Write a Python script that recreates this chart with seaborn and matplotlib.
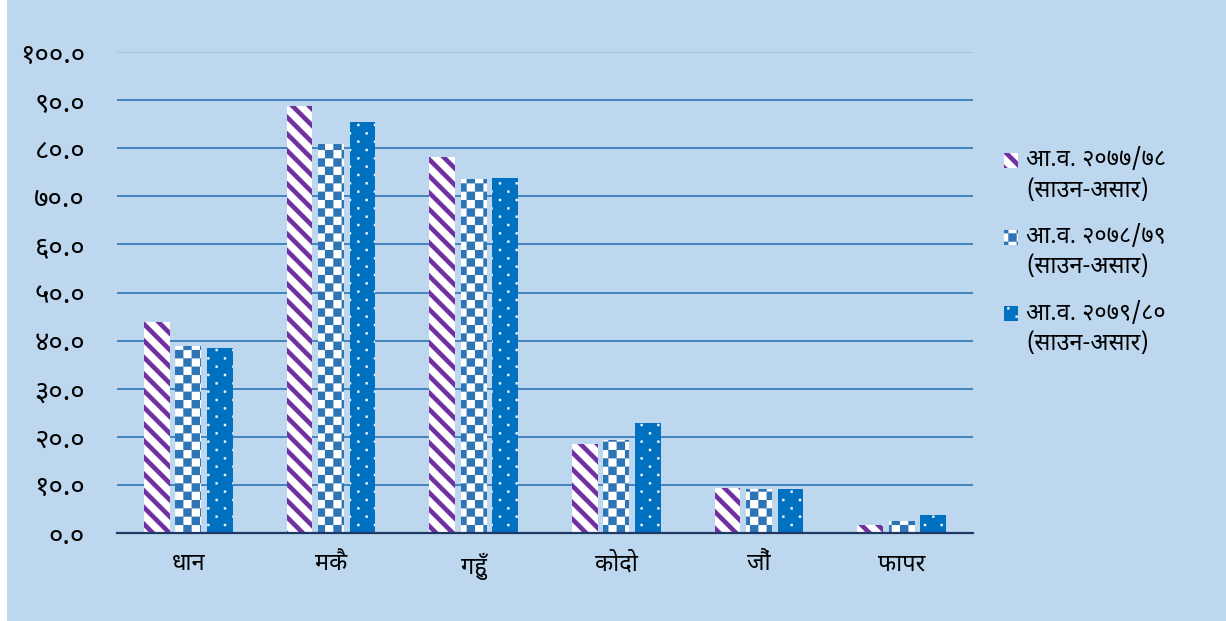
import matplotlib
matplotlib.use('Agg')
import numpy as np
import pandas as pd
import seaborn as sns
import matplotlib.pyplot as plt
import matplotlib.hatch as mhatch
from matplotlib.path import Path
from matplotlib.patches import Rectangle
from matplotlib.legend_handler import HandlerPatch
from matplotlib import font_manager
from fontTools.ttLib import TTFont

# data
crops = ['धान', 'मकै', 'गहुँ', 'कोदो', 'जौं', 'फापर']
years = ['आ.व. २०७७/७८\n(साउन-असार)',
         'आ.व. २०७८/७९\n(साउन-असार)',
         'आ.व. २०७९/८०\n(साउन-असार)']
y2077 = [43.8, 88.8, 78.1, 18.6, 9.4, 1.7]
y2078 = [38.9, 80.9, 73.5, 19.3, 9.1, 2.5]
y2079 = [38.5, 85.4, 73.9, 22.9, 9.2, 3.7]
yticks = [0, 10, 20, 30, 40, 50, 60, 70, 80, 90, 100]
ytick_labels = ['०.०', '१०.०', '२०.०', '३०.०', '४०.०', '५०.०',
                '६०.०', '७०.०', '८०.०', '९०.०', '१००.०']

bg = '#BDD7EE'
purple = '#7030A0'
check_blue = '#2E75B6'
dot_blue = '#0070C0'


#%% find a font that has devanagari glyphs
def find_deva_font():
    prefer = ['Noto Sans Devanagari', 'Noto Serif Devanagari', 'Lohit Devanagari',
              'Mangal', 'Kokila', 'Noto Sans']
    found = []
    for f in font_manager.fontManager.ttflist:
        try:
            tt = TTFont(f.fname, fontNumber=0, lazy=True)
            cmap = tt.getBestCmap() or {}
        except Exception:
            continue
        if 0x0927 in cmap and 0x096F in cmap:
            found.append(f.name)
    for p in prefer:
        if p in found:
            return p
    return found[0] if found else None


deva = find_deva_font()
if deva:
    plt.rcParams['font.family'] = [deva, 'DejaVu Sans']
else:
    plt.rcParams['font.family'] = ['DejaVu Sans']
plt.rcParams['hatch.linewidth'] = 0.1


#%% filled hatch patterns (stripes, checkerboard, dots)
class StripeHatch(mhatch.HatchPatternBase):
    def __init__(self, hatch, density):
        self.n = int(hatch.count('\\') * density)
        self.num_vertices = (2 * self.n + 1) * 5 if self.n else 0

    def set_vertices_and_codes(self, vertices, codes):
        w = 0.38 / self.n
        k = 0
        for i in range(2 * self.n + 1):
            c = i / self.n
            vertices[k:k + 5] = [(c, 0), (c + w, 0), (c + w - 1, 1), (c - 1, 1), (c, 0)]
            codes[k:k + 5] = [Path.MOVETO, Path.LINETO, Path.LINETO, Path.LINETO, Path.CLOSEPOLY]
            k += 5


class CheckerHatch(mhatch.HatchPatternBase):
    def __init__(self, hatch, density):
        self.n = int(hatch.count('+') * density * 2)
        self.num_vertices = (self.n * self.n // 2) * 5 if self.n else 0

    def set_vertices_and_codes(self, vertices, codes):
        s = 1.0 / self.n
        k = 0
        for i in range(self.n):
            for j in range(self.n):
                if (i + j) % 2:
                    continue
                x, y = i * s, j * s
                vertices[k:k + 5] = [(x, y), (x + s, y), (x + s, y + s), (x, y + s), (x, y)]
                codes[k:k + 5] = [Path.MOVETO, Path.LINETO, Path.LINETO, Path.LINETO, Path.CLOSEPOLY]
                k += 5


class DotHatch(mhatch.HatchPatternBase):
    def __init__(self, hatch, density):
        self.cols = int(hatch.count('.') * density)
        self.rows = self.cols * 2
        pts = []
        if self.cols:
            for r in range(self.rows + 1):
                if r % 2 == 0:
                    xs = [j / self.cols for j in range(self.cols + 1)]
                else:
                    xs = [(j + 0.5) / self.cols for j in range(self.cols)]
                for x in xs:
                    pts.append((x, r / self.rows))
        self.pts = pts
        self.num_vertices = len(pts) * 5

    def set_vertices_and_codes(self, vertices, codes):
        h = 0.011
        k = 0
        for x, y in self.pts:
            vertices[k:k + 5] = [(x - h, y - h), (x + h, y - h), (x + h, y + h), (x - h, y + h), (x - h, y - h)]
            codes[k:k + 5] = [Path.MOVETO, Path.LINETO, Path.LINETO, Path.LINETO, Path.CLOSEPOLY]
            k += 5


mhatch._hatch_types = [StripeHatch, CheckerHatch, DotHatch]

#%% data frame for seaborn
df = pd.DataFrame({
    'crop': crops * 3,
    'value': y2077 + y2078 + y2079,
    'year': [years[0]] * 6 + [years[1]] * 6 + [years[2]] * 6,
})

fig = plt.figure(figsize=(12.26, 6.21), dpi=100, facecolor='white')
fig.add_artist(Rectangle((7 / 1226, 0), 1, 1, transform=fig.transFigure,
                         facecolor=bg, edgecolor='none', zorder=0))
ax = fig.add_axes([117 / 1226, 1 - 533 / 621, (973 - 117) / 1226, (533 - 52) / 621])
ax.set_facecolor('none')

sns.barplot(data=df, x='crop', y='value', hue='year', hue_order=years,
            width=0.66, gap=0.18, ax=ax, legend=False, errorbar=None, zorder=3)

styles = [('white', purple, '\\'), ('white', check_blue, '+'), (dot_blue, 'white', '.')]
for cont, (fc, hc, hatch) in zip(ax.containers, styles):
    for bar in cont:
        bar.set_facecolor(fc)
        bar.set_edgecolor(hc)
        bar.set_linewidth(0)
        bar.set_hatch(hatch)

ax.set_xlim(-0.5, 5.5)
ax.set_ylim(0, 100)
ax.set_yticks(yticks)
ax.set_yticklabels(ytick_labels, fontsize=20)
ax.set_xlabel('')
ax.set_ylabel('')
ax.tick_params(axis='both', length=0)
ax.tick_params(axis='y', pad=23)
ax.tick_params(axis='x', pad=14, labelsize=17)
ax.set_axisbelow(True)
ax.yaxis.grid(True, color=check_blue, lw=1.2)
ax.yaxis.get_gridlines()[-1].set_color('#A4C2DE')
for side in ['left', 'right', 'top']:
    ax.spines[side].set_visible(False)
ax.spines['bottom'].set_color('#1F3864')
ax.spines['bottom'].set_linewidth(1.6)
ax.spines['bottom'].set_zorder(4)

# legend: handle next to first line of each label
lfs = 17
line_gap = 1.35


def top_patch(legend, orig_handle, xdescent, ydescent, width, height, fontsize):
    return Rectangle((-xdescent, -ydescent + 11.2), width, height)


handles = [cont.patches[0] for cont in ax.containers]
leg = fig.legend(handles, years, loc='upper left', bbox_to_anchor=(983 / 1226, 1 - 127 / 621),
                 frameon=False, fontsize=lfs, handlelength=0.6, handleheight=0.6,
                 handletextpad=0.33, labelspacing=0.95,
                 handler_map={Rectangle: HandlerPatch(patch_func=top_patch)})
for t in leg.get_texts():
    t.set_linespacing(line_gap)

fig.savefig('out.png', dpi=100, facecolor=fig.get_facecolor())
